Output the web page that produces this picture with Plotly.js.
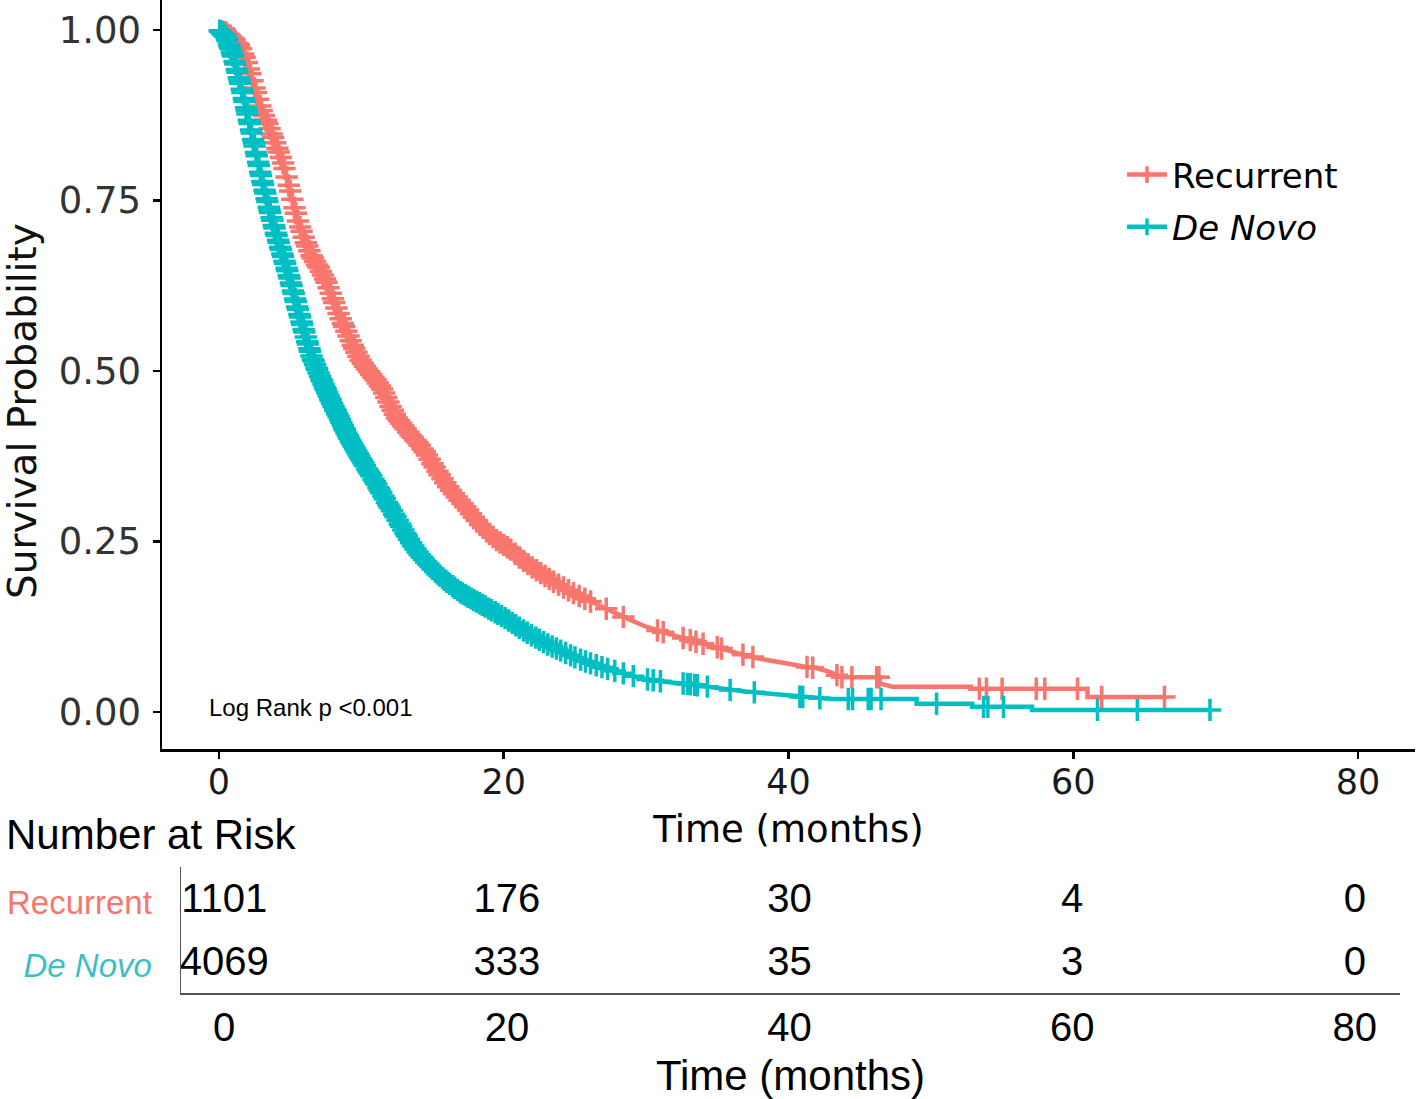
<!DOCTYPE html>
<html>
<head>
<meta charset="utf-8">
<script src="https://cdn.plot.ly/plotly-3.0.1.min.js"></script>
<style>html,body{margin:0;padding:0;background:#fff;}#chart{width:1416px;height:1099px;}</style>
</head>
<body>
<div id="chart"></div>
<script>
// ---- Kaplan-Meier curve corner points (months, survival probability) ----
// Early part of each curve is dense enough to read as a smooth line; the tail steps are given as explicit corners.
const recTimes = [0,0.5,1.0,1.5,2.0,2.5,3.0,3.5,4.0,4.5,5.0,5.5,6.0,6.5,7.0,7.5,8.0,8.5,9.0,9.5,10.0,10.5,11.0,11.5,12.0,12.5,13.0,13.5,14.0,14.5,15.0,15.5,16.0,16.5,17.0,17.5,18.0,18.5,19.0,19.5,20.0,20.5,21.0,21.5,22.0,22.5,23.0,23.5,24.0,24.5,25.0,25.5,26.0,26.5,27.0,27.5,28.0,29.0,30.0,31.0,32.0,33.0,34.0,35.0,36.0,37.0,38.0,39.0,40.0,41.0,42.0,43.0,43.7,46.4,46.4,47.3,52.8,52.8,61.0,61.0,66.4];
const recSurv  = [1.0,0.996,0.988,0.975,0.950,0.915,0.882,0.858,0.832,0.805,0.764,0.723,0.693,0.669,0.652,0.633,0.606,0.579,0.556,0.533,0.514,0.500,0.487,0.472,0.450,0.431,0.418,0.405,0.394,0.380,0.364,0.348,0.333,0.320,0.308,0.296,0.283,0.271,0.261,0.252,0.245,0.238,0.228,0.220,0.212,0.205,0.198,0.191,0.185,0.179,0.173,0.168,0.163,0.158,0.153,0.149,0.143,0.134,0.125,0.118,0.112,0.106,0.100,0.095,0.088,0.083,0.078,0.074,0.071,0.067,0.064,0.058,0.051,0.051,0.042,0.037,0.037,0.034,0.034,0.022,0.022];
const recCensor = [0.2,0.4,0.5,0.7,0.8,1.0,1.1,1.3,1.4,1.55,1.7,1.8,1.95,2.1,2.2,2.35,2.5,2.6,2.75,2.9,3.0,3.15,3.3,3.4,3.55,3.7,3.8,3.95,4.1,4.2,4.35,4.5,4.6,4.75,4.9,5.0,5.15,5.3,5.4,5.55,5.7,5.8,5.95,6.1,6.2,6.35,6.5,6.6,6.75,6.9,7.0,7.15,7.3,7.45,7.55,7.7,7.85,8.0,8.1,8.25,8.4,8.55,8.7,8.8,8.95,9.1,9.25,9.4,9.5,9.65,9.8,9.95,10.1,10.25,10.4,10.55,10.7,10.85,11.0,11.15,11.3,11.45,11.6,11.75,11.9,12.05,12.2,12.35,12.5,12.65,12.8,12.95,13.1,13.3,13.45,13.6,13.8,13.95,14.1,14.3,14.45,14.6,14.8,15.0,15.15,15.35,15.5,15.7,15.9,16.1,16.3,16.5,16.7,16.9,17.1,17.3,17.5,17.7,17.9,18.1,18.35,18.55,18.8,19.0,19.25,19.5,19.75,20.0,20.25,20.5,20.8,21.1,21.4,21.7,22.0,22.3,22.6,22.9,23.2,23.5,23.85,24.2,24.55,24.9,25.3,25.7,26.1,27.2,28.4,30.8,31.2,32.6,33.1,33.5,34.0,35.0,35.3,36.8,37.5,41.3,41.7,43.4,43.75,44.45,46.2,46.35,53.4,53.9,55.0,57.4,58.0,60.3,62.0,66.4];

const dnTimes = [0,0.5,1.0,1.5,2.0,2.5,3.0,3.5,4.0,4.5,5.0,5.5,6.0,6.5,7.0,7.5,8.0,8.5,9.0,9.5,10.0,10.5,11.0,11.5,12.0,12.5,13.0,13.5,14.0,14.5,15.0,15.5,16.0,16.5,17.0,17.5,18.0,18.5,19.0,19.5,20.0,20.5,21.0,21.5,22.0,22.5,23.0,23.5,24.0,24.5,25.0,25.5,26.0,27.0,28.0,29.0,30.0,31.0,32.0,33.0,34.0,35.0,36.0,37.0,38.0,39.0,40.0,41.0,42.0,43.0,49.0,49.0,52.9,52.9,57.1,57.1,69.6];
const dnSurv  = [1.0,0.990,0.962,0.922,0.877,0.830,0.782,0.740,0.702,0.668,0.633,0.594,0.557,0.522,0.497,0.473,0.450,0.429,0.407,0.388,0.370,0.353,0.336,0.318,0.300,0.283,0.265,0.248,0.233,0.221,0.210,0.200,0.191,0.183,0.175,0.169,0.163,0.157,0.151,0.145,0.139,0.132,0.125,0.118,0.112,0.106,0.100,0.095,0.090,0.085,0.080,0.076,0.072,0.065,0.059,0.053,0.048,0.045,0.043,0.041,0.038,0.035,0.032,0.030,0.028,0.026,0.024,0.022,0.0205,0.019,0.019,0.012,0.012,0.0075,0.0075,0.003,0.003];
const dnCensor = [0.05,0.1,0.2,0.25,0.3,0.4,0.45,0.55,0.6,0.7,0.75,0.8,0.9,0.95,1.0,1.1,1.15,1.25,1.3,1.4,1.45,1.5,1.6,1.65,1.75,1.8,1.9,1.95,2.0,2.1,2.15,2.25,2.3,2.4,2.45,2.5,2.6,2.65,2.75,2.8,2.9,2.95,3.05,3.1,3.2,3.25,3.35,3.4,3.5,3.55,3.6,3.7,3.75,3.85,3.9,4.0,4.05,4.15,4.2,4.3,4.35,4.45,4.5,4.6,4.65,4.75,4.8,4.9,4.95,5.05,5.1,5.2,5.25,5.35,5.4,5.5,5.55,5.65,5.7,5.8,5.85,5.95,6.0,6.1,6.2,6.25,6.35,6.4,6.5,6.6,6.65,6.75,6.85,6.9,7.0,7.1,7.2,7.25,7.35,7.45,7.5,7.6,7.7,7.8,7.85,7.95,8.05,8.15,8.2,8.3,8.4,8.5,8.6,8.7,8.8,8.85,8.95,9.05,9.15,9.25,9.35,9.45,9.55,9.65,9.75,9.85,9.95,10.05,10.15,10.25,10.4,10.5,10.6,10.7,10.85,10.95,11.05,11.2,11.3,11.4,11.55,11.65,11.8,11.9,12.0,12.15,12.3,12.4,12.55,12.7,12.8,12.95,13.1,13.2,13.35,13.5,13.65,13.8,13.95,14.1,14.25,14.4,14.55,14.7,14.85,15.0,15.2,15.35,15.5,15.7,15.85,16.0,16.2,16.4,16.55,16.75,16.95,17.1,17.3,17.5,17.7,17.9,18.1,18.3,18.5,18.7,18.95,19.15,19.4,19.6,19.85,20.1,20.35,20.6,20.85,21.1,21.4,21.65,21.95,22.25,22.5,22.8,23.1,23.4,23.7,24.0,24.35,24.7,25.0,25.4,25.75,26.1,26.5,26.9,27.3,27.8,28.4,29.1,30.1,30.5,31.0,32.6,32.9,33.1,33.4,33.6,34.3,35.9,37.6,40.8,41.0,42.2,44.2,44.5,45.6,45.8,46.5,50.4,53.7,54.0,55.1,61.7,64.5,69.6];

// ---- Number at risk table ----
const riskTimes = [0,20,40,60,80];
const riskRecurrent = [1101,176,30,4,0];
const riskDeNovo = [4069,333,35,3,0];
const groupNames = ['Recurrent','De Novo'];
const xTicks = [0,20,40,60,80];
const yTicks = [0,0.25,0.5,0.75,1];
const yTickText = ['0.00','0.25','0.50','0.75','1.00'];

const RED = '#F8766D', TEAL = '#00BFC4';

// y of the drawn curve at time t (censor marks sit on the curve)
function curveAt(times, surv, t){
  for (let i=0;i<times.length-1;i++){
    const a = times[i], b = times[i+1];
    if (b > a && t >= a && t <= b){
      return surv[i] + (surv[i+1]-surv[i])*(t-a)/(b-a);
    }
  }
  return t <= times[0] ? surv[0] : surv[surv.length-1];
}
function censorPoints(times, surv, censor){
  return {x:censor.slice(), y:censor.map(t=>curveAt(times,surv,t))};
}

const recC = censorPoints(recTimes, recSurv, recCensor);
const dnC = censorPoints(dnTimes, dnSurv, dnCensor);

function lineTrace(x, y, color, group){
  return {type:'scatter', mode:'lines', x:x, y:y, legendgroup:group, showlegend:false,
    line:{color:color, width:4.5}, xaxis:'x', yaxis:'y', hoverinfo:'skip'};
}
function censorTrace(c, color, group){
  return {type:'scatter', mode:'markers', x:c.x, y:c.y, legendgroup:group, showlegend:false,
    marker:{symbol:'cross-thin', size:16, color:color, line:{color:color, width:3.5}},
    xaxis:'x', yaxis:'y', hoverinfo:'skip'};
}
// legend key only (line with a censor cross), no plotted data
function legendTrace(name, color, group){
  return {type:'scatter', mode:'lines+markers', x:[null], y:[null], name:name, legendgroup:group,
    line:{color:color, width:4.5},
    marker:{symbol:'cross-thin', size:12, color:color, line:{color:color, width:3.5}},
    xaxis:'x', yaxis:'y', hoverinfo:'skip'};
}

const traces = [
  lineTrace(recTimes, recSurv, RED, 'g1'),
  censorTrace(recC, RED, 'g1'),
  legendTrace('Recurrent', RED, 'g1'),
  lineTrace(dnTimes, dnSurv, TEAL, 'g2'),
  censorTrace(dnC, TEAL, 'g2'),
  legendTrace('<i>De Novo</i>', TEAL, 'g2'),
  {type:'scatter', mode:'text', x:riskTimes, y:riskTimes.map(()=>2), text:riskRecurrent.map(String),
   textposition:'middle center', textfont:{family:'Liberation Sans, Arial', size:40, color:'#000'},
   xaxis:'x2', yaxis:'y2', showlegend:false, hoverinfo:'skip'},
  {type:'scatter', mode:'text', x:riskTimes, y:riskTimes.map(()=>1), text:riskDeNovo.map(String),
   textposition:'middle center', textfont:{family:'Liberation Sans, Arial', size:40, color:'#000'},
   xaxis:'x2', yaxis:'y2', showlegend:false, hoverinfo:'skip'}
];

const W = 1416, H = 1099;
const layout = {
  width:W, height:H, margin:{l:0,r:0,t:0,b:0},
  paper_bgcolor:'#fff', plot_bgcolor:'#fff',
  showlegend:true,
  legend:{x:1122/W, y:1-146/H, xanchor:'left', yanchor:'top', bgcolor:'rgba(0,0,0,0)', itemwidth:40,
          font:{family:'DejaVu Sans', size:34, color:'#000'}, tracegroupgap:5},
  xaxis:{domain:[162/W, 1415/W], range:[-4,84], anchor:'y', tickvals:xTicks,
         showline:true, linecolor:'#000', linewidth:2.5, ticks:'outside', ticklen:7, tickwidth:2.5, tickcolor:'#000',
         showgrid:false, zeroline:false, tickfont:{family:'DejaVu Sans', size:35, color:'#1a1a1a'}, ticklabelstandoff:-7,
         title:{text:'Time (months)', font:{family:'DejaVu Sans', size:37, color:'#000'}, standoff:16}},
  yaxis:{domain:[1-749/H, 1], range:[-0.0543, 1.044], anchor:'x', tickvals:yTicks, ticktext:yTickText,
         showline:true, linecolor:'#000', linewidth:2.5, ticks:'outside', ticklen:7, tickwidth:2.5, tickcolor:'#000',
         showgrid:false, zeroline:false, tickfont:{family:'DejaVu Sans', size:37, color:'#333'}, ticklabelstandoff:4},
  xaxis2:{domain:[181/W, 1400/W], range:[-3.06, 83.2], anchor:'y2', tickvals:riskTimes,
          showline:true, linecolor:'#555', linewidth:1.5, ticks:'', showgrid:false, zeroline:false,
          tickfont:{family:'Liberation Sans, Arial', size:40, color:'#000'}, ticklabelstandoff:-2,
          title:{text:'Time (months)', font:{family:'Liberation Sans, Arial', size:42, color:'#000'}, standoff:15}},
  yaxis2:{domain:[1-993/H, 1-867/H], range:[0.556, 2.556], anchor:'x2', tickvals:[2,1],
          ticktext:['<span style="color:'+RED+'">'+groupNames[0]+'</span>', '<span style="color:#3CBFC4"><i>'+groupNames[1]+'</i></span>'],
          showline:true, linecolor:'#555', linewidth:1.5, ticks:'', showgrid:false, zeroline:false,
          tickfont:{family:'Liberation Sans, Arial', size:33}, ticklabelstandoff:21},
  annotations:[
    {xref:'x', yref:'y', x:-0.85, y:0.006, xanchor:'left', yanchor:'middle', showarrow:false,
     text:'Log Rank p &lt;0.001', font:{family:'Liberation Sans, Arial', size:24, color:'#000'}},
    {xref:'paper', yref:'paper', x:22/W, y:1-411/H, xanchor:'center', yanchor:'middle', showarrow:false, textangle:-90,
     text:'Survival Probability', font:{family:'DejaVu Sans', size:39, color:'#111'}},
    {xref:'paper', yref:'paper', x:4/W, y:1-834/H, xanchor:'left', yanchor:'middle', showarrow:false,
     text:'Number at Risk', font:{family:'Liberation Sans, Arial', size:42, color:'#000'}}
  ]
};

Plotly.newPlot('chart', traces, layout, {displayModeBar:false, staticPlot:true});
</script>
</body>
</html>
